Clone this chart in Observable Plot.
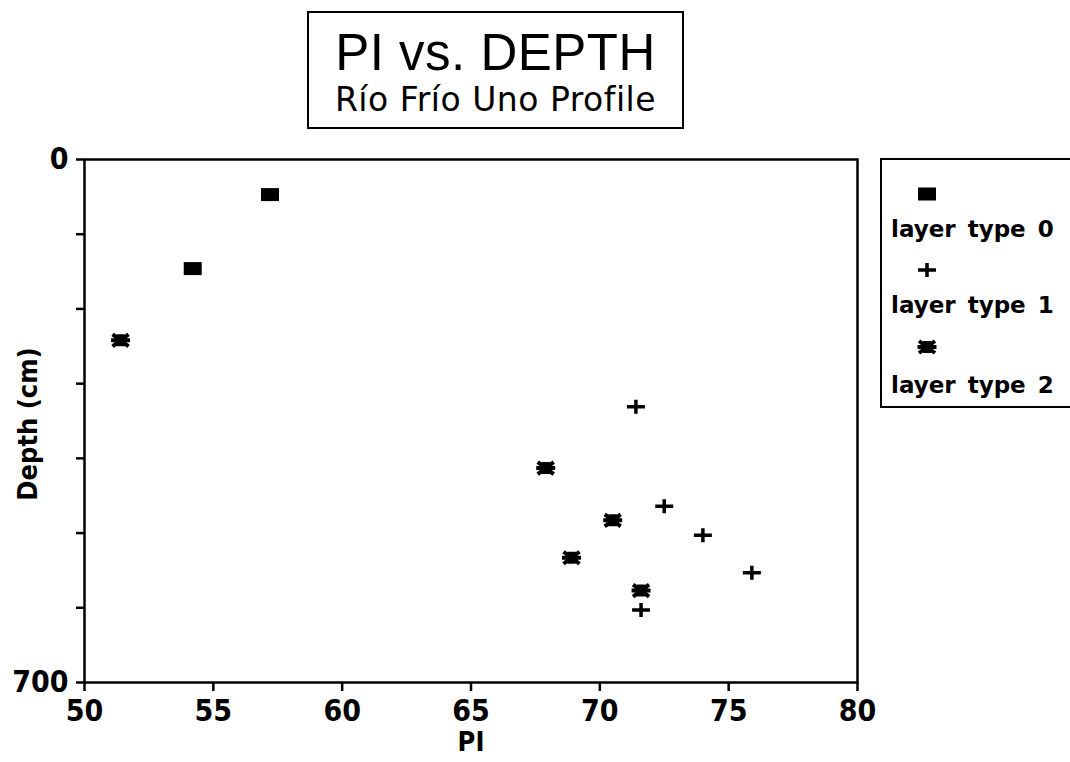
<!DOCTYPE html>
<html><head><meta charset="utf-8">
<script src="https://cdn.jsdelivr.net/npm/d3@7"></script>
<script src="https://cdn.jsdelivr.net/npm/@observablehq/plot@0.6"></script>
<style>
body{margin:0;background:#fff;}
#wrap{position:relative;width:1070px;height:762px;overflow:hidden;font-family:"DejaVu Sans",sans-serif;}
#title{position:absolute;left:307px;top:11px;width:377px;height:118px;border:2.5px solid #000;box-sizing:border-box;text-align:center;}
#t1{position:absolute;left:0;right:0;top:14px;font-family:"Liberation Sans",sans-serif;font-size:51px;font-weight:normal;line-height:52px;letter-spacing:0.5px;}
#t2{position:absolute;left:0;right:0;top:67px;font-size:33px;font-weight:normal;line-height:40px;letter-spacing:0.5px;}
#chart{position:absolute;left:0;top:140px;}
#legend{position:absolute;left:880px;top:158px;width:196px;height:250px;border:2.5px solid #000;box-sizing:border-box;}
#legend .lab{position:absolute;left:9px;font-size:23px;font-weight:bold;word-spacing:4px;line-height:26px;}
#legend svg{position:absolute;left:30px;}
</style></head>
<body>
<div id="wrap">
  <div id="title"><div id="t1">PI vs. DEPTH</div><div id="t2">Río Frío Uno Profile</div></div>
  <div id="chart"></div>
  <div id="legend"></div>
</div>
<script>
// data
const layerNames = ["layer type 0", "layer type 1", "layer type 2"];
const pi0 = [57.2, 54.2];
const depth0 = [47, 146];
const pi1 = [71.4, 72.5, 74.0, 75.9, 71.6];
const depth1 = [331, 464, 503, 553, 603];
const pi2 = [51.4, 67.9, 70.5, 68.9, 71.6];
const depth2 = [242, 413, 483, 533, 577];
const xTicks = [50, 55, 60, 65, 70, 75, 80];
const yTicks = [0, 100, 200, 300, 400, 500, 600, 700];
const yLabeled = [0, 700];

const rows = (xs, ys, t) => xs.map((x, i) => ({pi: x, depth: ys[i], type: t}));
const d0 = rows(pi0, depth0, layerNames[0]);
const d1 = rows(pi1, depth1, layerNames[1]);
const d2 = rows(pi2, depth2, layerNames[2]);

// custom symbols
const symSquare = {draw(c){ c.moveTo(-9,-6.5); c.lineTo(9,-6.5); c.lineTo(9,6.5); c.lineTo(-9,6.5); c.closePath(); }};
const symPlus = {draw(c){ c.moveTo(-9,0); c.lineTo(9,0); c.moveTo(0,-7); c.lineTo(0,7); }};
const symAst = {draw(c){ c.moveTo(-8,-6); c.lineTo(8,6); c.moveTo(-8,6); c.lineTo(8,-6); c.moveTo(-9.5,0); c.lineTo(9.5,0); c.moveTo(-4,-4); c.lineTo(4,-4); c.moveTo(-4,4); c.lineTo(4,4); }};

const font = "DejaVu Sans";
const condensed = "DejaVu Sans Condensed";
const plot = Plot.plot({
  width: 1070,
  height: 622,
  marginLeft: 84,
  marginRight: 213,
  marginTop: 19,
  marginBottom: 80,
  style: {fontFamily: font, background: "#fff", color: "#000"},
  x: {domain: [50, 80]},
  y: {domain: [0, 700], reverse: true},
  marks: [
    Plot.frame({stroke: "#000", strokeWidth: 2.5}),
    Plot.axisX({ticks: xTicks, tickSize: 9, tickPadding: 8, strokeWidth: 2.5, fontSize: 30, fontWeight: "bold", fontFamily: condensed, label: null}),
    Plot.axisY({ticks: yTicks, tickSize: 8, tickPadding: 8, strokeWidth: 2.5, fontSize: 30, fontWeight: "bold", fontFamily: condensed, label: null,
      tickFormat: d => yLabeled.includes(d) ? String(d) : ""}),
    Plot.text(["Depth (cm)"], {frameAnchor: "left", dx: -56, dy: 3, rotate: -90, textAnchor: "middle", lineAnchor: "middle", fontSize: 27, fontWeight: "bold", fontFamily: condensed, letterSpacing: 1}),
    Plot.text(["PI"], {frameAnchor: "bottom", dy: 60, lineAnchor: "middle", fontSize: 27, fontWeight: "bold", fontFamily: condensed}),
    Plot.dot(d0, {x: "pi", y: "depth", symbol: symSquare, fill: "#000", stroke: "none", r: 5}),
    Plot.dot(d1, {x: "pi", y: "depth", symbol: symPlus, fill: "none", stroke: "#000", strokeWidth: 3.5, r: 5}),
    Plot.dot(d2, {x: "pi", y: "depth", symbol: symAst, fill: "none", stroke: "#000", strokeWidth: 4, r: 5})
  ]
});
document.getElementById("chart").appendChild(plot);

// legend
const legend = d3.select("#legend");
const syms = [[symSquare, true, 3.5], [symPlus, false, 3.5], [symAst, false, 4]];
const symY = [34, 110, 187];
const labY = [71, 147, 227];
layerNames.forEach((name, i) => {
  const p = d3.path();
  syms[i][0].draw(p);
  const svg = legend.append("svg").attr("width", 30).attr("height", 24)
    .style("top", (symY[i] - 12) + "px");
  svg.append("path").attr("d", p.toString()).attr("transform", "translate(15,12)")
    .attr("fill", syms[i][1] ? "#000" : "none").attr("stroke", syms[i][1] ? "none" : "#000")
    .attr("stroke-width", syms[i][2]);
  legend.append("div").attr("class", "lab").style("top", (labY[i] - 13 - 2.5) + "px").text(name);
});
</script>
</body></html>
